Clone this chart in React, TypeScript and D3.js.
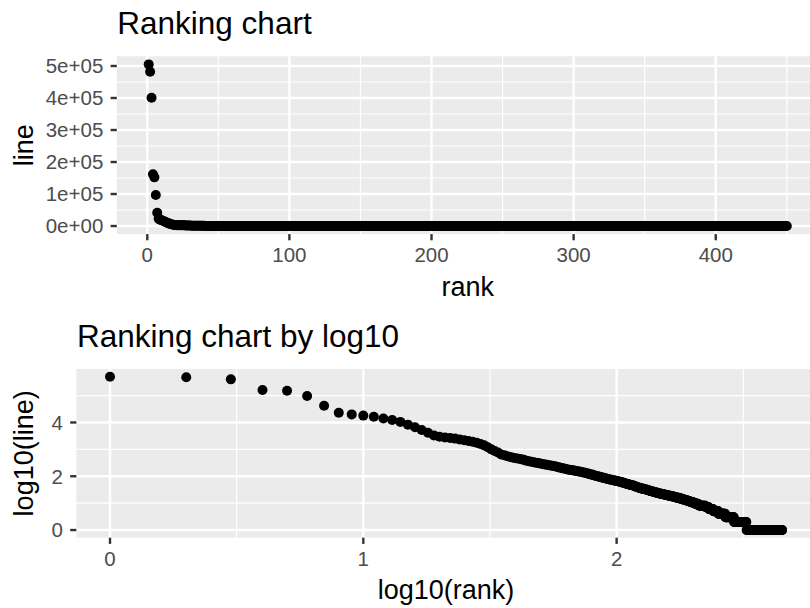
import React from 'react';
import * as d3 from 'd3';

// ---- data: value ("line") for each rank 1..450 ----
const lineValues: number[] = [
  505000, 482000, 401000, 162000, 152000, 97000, 41600, 23000, 20000, 18000,
  16200, 14100, 12300, 10500, 8300, 6600, 5250, 4170, 3310, 2950,
  2750, 2630, 2510, 2340, 2190, 2040, 1910, 1780, 1580, 1410,
  1200, 1000, 870, 760, 645, 600, 560, 525, 490, 468,
  447, 427, 407, 380, 363, 347, 331, 316, 309, 295,
  288, 275, 269, 257, 251, 240, 234, 224, 214, 209,
  200, 195, 186, 178, 174, 170, 166, 162, 158, 155,
  151, 148, 141, 138, 135, 129, 126, 120, 117, 115,
  110, 107, 102, 100, 98, 93, 91, 89, 87, 85,
  83, 79, 78, 76, 74, 72, 71, 69, 68, 66,
  65, 64, 63, 61, 59, 58, 56, 55, 53, 52,
  50, 49, 48, 47, 46, 45, 44, 43, 41, 40,
  39, 38, 37, 36, 35, 35, 34, 34, 33, 32,
  32, 31, 30, 30, 29, 28, 28, 27, 27, 26,
  26, 25, 25, 25, 24, 24, 23, 23, 23, 22,
  22, 22, 21, 21, 21, 20, 20, 20, 20, 19,
  19, 19, 19, 18, 18, 18, 18, 17, 17, 17,
  17, 16, 16, 16, 16, 16, 15, 15, 15, 15,
  14, 14, 14, 14, 13, 13, 13, 13, 13, 12,
  12, 12, 12, 12, 11, 11, 11, 11, 11, 11,
  10, 10, 10, 10, 10, 10, 9, 9, 9, 9,
  9, 8, 8, 8, 8, 8, 8, 8, 8, 8,
  8, 8, 8, 8, 7, 7, 7, 7, 7, 7,
  7, 6, 6, 6, 6, 6, 6, 6, 6, 6,
  5, 5, 5, 5, 5, 5, 5, 5, 5, 5,
  5, 5, 4, 4, 4, 4, 4, 4, 4, 4,
  4, 4, 4, 4, 4, 4, 4, 4, 3, 3,
  3, 3, 3, 3, 3, 3, 3, 3, 3, 3,
  3, 3, 3, 3, 3, 3, 3, 3, 3, 3,
  2, 2, 2, 2, 2, 2, 2, 2, 2, 2,
  2, 2, 2, 2, 2, 2, 2, 2, 2, 2,
  2, 2, 2, 2, 2, 2, 2, 2, 2, 2,
  2, 2, 2, 2, 2, 1, 1, 1, 1, 1,
  1, 1, 1, 1, 1, 1, 1, 1, 1, 1,
  1, 1, 1, 1, 1, 1, 1, 1, 1, 1,
  1, 1, 1, 1, 1, 1, 1, 1, 1, 1,
  1, 1, 1, 1, 1, 1, 1, 1, 1, 1,
  1, 1, 1, 1, 1, 1, 1, 1, 1, 1,
  1, 1, 1, 1, 1, 1, 1, 1, 1, 1,
  1, 1, 1, 1, 1, 1, 1, 1, 1, 1,
  1, 1, 1, 1, 1, 1, 1, 1, 1, 1,
  1, 1, 1, 1, 1, 1, 1, 1, 1, 1,
  1, 1, 1, 1, 1, 1, 1, 1, 1, 1,
  1, 1, 1, 1, 1, 1, 1, 1, 1, 1,
  1, 1, 1, 1, 1, 1, 1, 1, 1, 1,
];

const topTitle = 'Ranking chart';
const topXLabel = 'rank';
const topYLabel = 'line';
const topXTicks = [0, 100, 200, 300, 400];
const topXMinor = [50, 150, 250, 350, 450];
const topYTicks = [0, 100000, 200000, 300000, 400000, 500000];
const topYTickLabels = ['0e+00', '1e+05', '2e+05', '3e+05', '4e+05', '5e+05'];
const topYMinor = [50000, 150000, 250000, 350000, 450000];

const botTitle = 'Ranking chart by log10';
const botXLabel = 'log10(rank)';
const botYLabel = 'log10(line)';
const botXTicks = [0, 1, 2];
const botXMinor = [0.5, 1.5, 2.5];
const botYTicks = [0, 2, 4];
const botYMinor = [1, 3, 5];

const FONT = "'Liberation Sans', Arial, Helvetica, sans-serif";

function expand(ext: [number, number]): [number, number] {
  const d = (ext[1] - ext[0]) * 0.05;
  return [ext[0] - d, ext[1] + d];
}

type PanelProps = {
  pts: { x: number; y: number }[];
  left: number; right: number; top: number; bottom: number;
  xTicks: number[]; xTickLabels: string[]; xMinor: number[];
  yTicks: number[]; yTickLabels: string[]; yMinor: number[];
  title: string; xLabel: string; yLabel: string;
  titleBaseline: number;
};

function Panel(p: PanelProps) {
  const x = d3.scaleLinear()
    .domain(expand(d3.extent(p.pts, (d) => d.x) as [number, number]))
    .range([p.left, p.right]);
  const y = d3.scaleLinear()
    .domain(expand(d3.extent(p.pts, (d) => d.y) as [number, number]))
    .range([p.bottom, p.top]);
  const tickLen = 6.2;
  const tickCol = '#333333';
  const labCol = '#4D4D4D';
  const xTickBase = p.bottom + 28;
  return (
    <g>
      <text x={p.left + 0.5} y={p.titleBaseline} fontFamily={FONT} fontSize={31.5} fill="#000">{p.title}</text>
      <rect x={p.left} y={p.top} width={p.right - p.left} height={p.bottom - p.top} fill="#EBEBEB" />
      {p.yMinor.map((v) => (
        <line key={'ym' + v} x1={p.left} x2={p.right} y1={y(v)} y2={y(v)} stroke="#fff" strokeWidth={1.2} />
      ))}
      {p.xMinor.map((v) => (
        <line key={'xm' + v} x1={x(v)} x2={x(v)} y1={p.top} y2={p.bottom} stroke="#fff" strokeWidth={1.2} />
      ))}
      {p.yTicks.map((v) => (
        <line key={'yM' + v} x1={p.left} x2={p.right} y1={y(v)} y2={y(v)} stroke="#fff" strokeWidth={2.4} />
      ))}
      {p.xTicks.map((v) => (
        <line key={'xM' + v} x1={x(v)} x2={x(v)} y1={p.top} y2={p.bottom} stroke="#fff" strokeWidth={2.4} />
      ))}
      {p.pts.map((d, i) => (
        <circle key={i} cx={x(d.x)} cy={y(d.y)} r={5} fill="#000" />
      ))}
      {p.yTicks.map((v, i) => (
        <g key={'yt' + v}>
          <line x1={p.left - tickLen} x2={p.left} y1={y(v)} y2={y(v)} stroke={tickCol} strokeWidth={2.4} />
          <text x={p.left - tickLen - 7.3} y={y(v)} dy="0.36em" textAnchor="end" fontFamily={FONT} fontSize={20.5} fill={labCol}>{p.yTickLabels[i]}</text>
        </g>
      ))}
      {p.xTicks.map((v, i) => (
        <g key={'xt' + v}>
          <line x1={x(v)} x2={x(v)} y1={p.bottom} y2={p.bottom + tickLen} stroke={tickCol} strokeWidth={2.4} />
          <text x={x(v)} y={xTickBase} textAnchor="middle" fontFamily={FONT} fontSize={20.5} fill={labCol}>{p.xTickLabels[i]}</text>
        </g>
      ))}
      <text x={(p.left + p.right) / 2} y={xTickBase + 33.5} textAnchor="middle" fontFamily={FONT} fontSize={27} fill="#000">{p.xLabel}</text>
      <text transform={`translate(33,${(p.top + p.bottom) / 2}) rotate(-90)`} textAnchor="middle" fontFamily={FONT} fontSize={27} fill="#000">{p.yLabel}</text>
    </g>
  );
}

export default function App() {
  const topPts = lineValues.map((v, i) => ({ x: i + 1, y: v }));
  const botPts = lineValues.map((v, i) => ({ x: Math.log10(i + 1), y: Math.log10(v) }));
  return (
    <svg width={810} height={608} style={{ position: 'absolute', left: 0, top: 0, background: '#fff' }}>
      <rect x={0} y={0} width={810} height={608} fill="#fff" />
      <Panel
        pts={topPts}
        left={116.8} right={818.7} top={56.3} bottom={234.1}
        xTicks={topXTicks} xTickLabels={topXTicks.map(String)} xMinor={topXMinor}
        yTicks={topYTicks} yTickLabels={topYTickLabels} yMinor={topYMinor}
        title={topTitle} xLabel={topXLabel} yLabel={topYLabel}
        titleBaseline={34.3}
      />
      <Panel
        pts={botPts}
        left={76.4} right={815.7} top={369} bottom={537.7}
        xTicks={botXTicks} xTickLabels={botXTicks.map(String)} xMinor={botXMinor}
        yTicks={botYTicks} yTickLabels={botYTicks.map(String)} yMinor={botYMinor}
        title={botTitle} xLabel={botXLabel} yLabel={botYLabel}
        titleBaseline={346.7}
      />
    </svg>
  );
}
